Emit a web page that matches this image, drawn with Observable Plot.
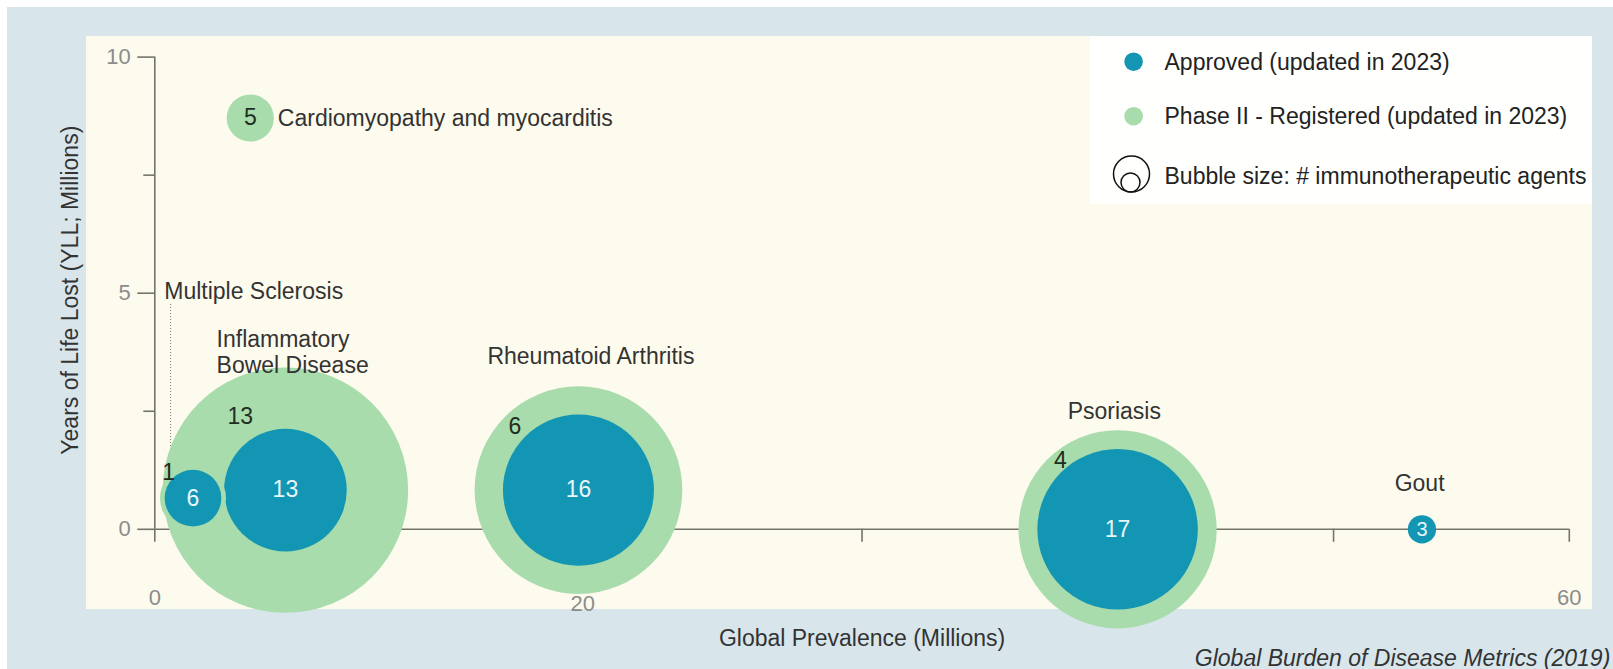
<!DOCTYPE html>
<html>
<head>
<meta charset="utf-8">
<script src="https://cdn.jsdelivr.net/npm/d3@7"></script>
<script src="https://cdn.jsdelivr.net/npm/@observablehq/plot@0.6"></script>
<style>
  html, body { margin: 0; padding: 0; background: #ffffff; }
  body { width: 1613px; height: 669px; position: relative; overflow: hidden;
         font-family: "Liberation Sans", Arial, sans-serif; }
  #bg { position: absolute; left: 7px; top: 7px; right: 0; bottom: 0; background: #d8e6eb; }
  #panel { position: absolute; left: 86px; top: 36px; width: 1506px; height: 573px; background: #fdfbed; }
  #chart { position: absolute; left: 0; top: 0; }
  #legend { position: absolute; left: 1090px; top: 36px; width: 502px; height: 168px; background: #fffffd; }
  #legend text { font-family: "Liberation Sans", Arial, sans-serif; font-size: 23px; fill: #222; }
</style>
</head>
<body>
<div id="bg"></div>
<div id="panel"></div>
<div id="chart"></div>
<div id="legend"></div>
<script>
// ---- data ----
const diseases   = ["Inflammatory Bowel Disease", "Multiple Sclerosis", "Rheumatoid Arthritis", "Psoriasis", "Gout", "Cardiomyopathy and myocarditis"];
const prevalence = [5.54, 1.62, 17.97, 40.84, 53.75, 4.05];   // Global prevalence (millions)
const yll        = [0.83, 0.66, 0.83, 0.0, 0.0, 8.71];        // Years of life lost (millions)
const approved   = [13, 6, 16, 17, 3, 0];                     // approved agents
const phase2     = [13, 1, 6, 4, 0, 5];                       // phase II - registered agents

// disease name annotations (data coordinates)
const nameText   = ["Inflammatory\nBowel Disease", "Multiple Sclerosis", "Rheumatoid Arthritis", "Psoriasis", "Gout", "Cardiomyopathy and myocarditis"];
const nameX      = [2.62, 0.4, 18.5, 40.7, 53.65, 5.22];
const nameY      = [3.76, 5.05, 3.68, 2.52, 0.99, 8.71];
const nameAnchor = ["start", "start", "middle", "middle", "middle", "start"];

// phase II count annotations (data coordinates)
const p2LabelX   = [3.63, 0.59, 15.27, 38.41];
const p2LabelY   = [2.39, 1.19, 2.18, 1.46];
const p2LabelVal = ["13", "1", "6", "4"];

// multiple sclerosis leader line (data coordinates)
const leaderX = [0.67];
const leaderY1 = [4.76];
const leaderY2 = [1.18];

const xTicks = [0, 10, 20, 30, 40, 50, 60];
const yMajor = [0, 5, 10];
const yMinor = [2.5, 7.5];
const xTickLabelsA = [0, 60];
const xTickLabelsB = [20];

const stages = ["Approved (updated in 2023)", "Phase II - Registered (updated in 2023)"];
const colors = ["#1396b3", "#a9dcac"];

// ---- build tables ----
const circles = [];
diseases.forEach((d, i) => {
  if (phase2[i] > 0) circles.push({disease: d, x: prevalence[i], y: yll[i], stage: stages[1], size: approved[i] + phase2[i]});
  if (approved[i] > 0) circles.push({disease: d, x: prevalence[i], y: yll[i], stage: stages[0], size: approved[i]});
});
const approvedLabels = diseases.map((d, i) => ({x: prevalence[i], y: yll[i], n: approved[i], d}))
  .filter(r => r.n > 0);
const cardioLabel = diseases.map((d, i) => ({x: prevalence[i], y: yll[i], n: phase2[i], a: approved[i]}))
  .filter(r => r.a === 0);
const names = nameText.map((t, i) => ({t, x: nameX[i], y: nameY[i], a: nameAnchor[i]}));
const p2 = p2LabelVal.map((t, i) => ({t, x: p2LabelX[i], y: p2LabelY[i]}));
const leader = leaderX.map((x, i) => ({x, y1: leaderY1[i], y2: leaderY2[i]}));

const axisColor = "#74746c";
const tickTextColor = "#8c8c8c";
const textColor = "#333333";
const FS = 23;

const chart = Plot.plot({
  width: 1613,
  height: 669,
  marginLeft: 154.3,
  marginRight: 44.2,
  marginTop: 56.6,
  marginBottom: 140.2,
  style: {background: "transparent", overflow: "visible", fontFamily: "'Liberation Sans', Arial, sans-serif"},
  x: {domain: [0, 60], label: null},
  y: {domain: [0, 10], label: null},
  r: {type: "linear", domain: [0, 26], range: [0, 26 * 4.72]},
  color: {domain: stages, range: colors},
  marks: [
    // axes
    Plot.ruleY([0], {x1: 0, x2: 60, stroke: axisColor, strokeWidth: 1.6}),
    Plot.ruleX([0], {y1: 0, y2: 10, stroke: axisColor, strokeWidth: 1.6}),
    Plot.axisX(xTicks, {tickSize: 13, tickFormat: () => "", stroke: axisColor, strokeWidth: 1.6, label: null}),
    Plot.axisY(yMajor, {tickSize: 17, tickFormat: () => "", stroke: axisColor, strokeWidth: 1.6, label: null}),
    Plot.axisY(yMinor, {tickSize: 11, tickFormat: () => "", stroke: axisColor, strokeWidth: 1.6, label: null}),
    Plot.text(yMajor, {y: d => d, frameAnchor: "left", textAnchor: "end", lineAnchor: "middle", dx: -24, fill: tickTextColor, fontSize: 22}),
    Plot.text(xTickLabelsA, {x: d => d, frameAnchor: "bottom", lineAnchor: "middle", dy: 69, fill: tickTextColor, fontSize: 22}),
    Plot.text(xTickLabelsB, {x: d => d, frameAnchor: "bottom", lineAnchor: "middle", dy: 75, dx: -43.6, fill: tickTextColor, fontSize: 22}),
    // leader line
    Plot.ruleX(leader, {x: "x", y1: "y1", y2: "y2", stroke: "#777", strokeWidth: 1, strokeDasharray: "1,2"}),
    // bubbles
    Plot.dot(circles, {x: "x", y: "y", r: "size", fill: "stage", stroke: "none"}),
    // numbers
    Plot.text(approvedLabels, {x: "x", y: "y", text: d => String(d.n), fill: "#e8f6fc", fontSize: d => d.n < 5 ? 20 : FS}),
    Plot.text(cardioLabel, {x: "x", y: "y", text: d => String(d.n), fill: "#1e2e1e", fontSize: FS}),
    Plot.text(p2, {x: "x", y: "y", text: "t", fill: "#1e2e1e", fontSize: FS}),
    // disease names
    Plot.text(names.filter(d => d.a === "start"), {x: "x", y: "y", text: "t", textAnchor: "start", lineHeight: 1.12, fill: textColor, fontSize: FS}),
    Plot.text(names.filter(d => d.a === "middle"), {x: "x", y: "y", text: "t", textAnchor: "middle", lineHeight: 1.12, fill: textColor, fontSize: FS}),
    // axis titles & caption
    Plot.text(["Global Prevalence (Millions)"], {frameAnchor: "bottom", lineAnchor: "middle", textAnchor: "middle", dy: 109, fill: textColor, fontSize: FS}),
    Plot.text(["Years of Life Lost (YLL; Millions)"], {frameAnchor: "left", rotate: -90, textAnchor: "middle", lineAnchor: "middle", dx: -84.3, dy: -3, fill: textColor, fontSize: FS}),
    Plot.text(["Global Burden of Disease Metrics (2019)"], {frameAnchor: "bottom-right", textAnchor: "end", lineAnchor: "middle", dx: 41, dy: 129, fill: textColor, fontSize: FS, fontStyle: "italic"})
  ]
});
document.getElementById("chart").appendChild(chart);

// ---- legend ----
const legendSvg = d3.select("#legend").append("svg").attr("width", 502).attr("height", 168);
const items = [{label: stages[0], color: colors[0], y: 25.7}, {label: stages[1], color: colors[1], y: 80.2}];
items.forEach(it => {
  legendSvg.append("circle").attr("cx", 43.6).attr("cy", it.y).attr("r", 9.3).attr("fill", it.color);
  legendSvg.append("text").attr("x", 74.5).attr("y", it.y).attr("dy", "0.35em").text(it.label);
});
legendSvg.append("circle").attr("cx", 41.5).attr("cy", 138).attr("r", 18).attr("fill", "none").attr("stroke", "#111").attr("stroke-width", 1.5);
legendSvg.append("circle").attr("cx", 40.5).attr("cy", 146.5).attr("r", 9.5).attr("fill", "none").attr("stroke", "#111").attr("stroke-width", 1.5);
legendSvg.append("text").attr("x", 74.5).attr("y", 140).attr("dy", "0.35em").text("Bubble size: # immunotherapeutic agents");
</script>
</body>
</html>
